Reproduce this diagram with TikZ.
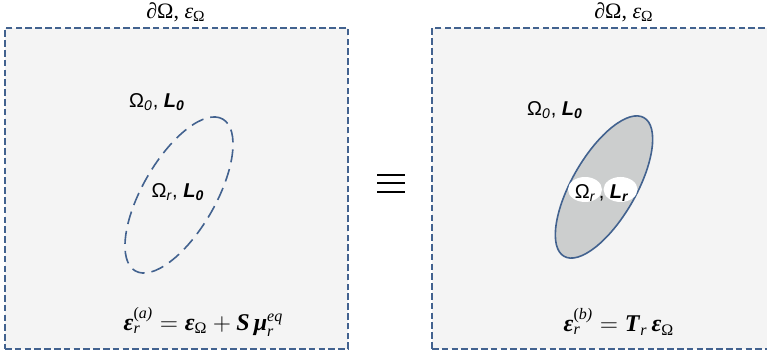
\documentclass[tikz,border=0pt]{standalone}
\usepackage{amsmath}
\usepackage{fontspec}
\setmainfont{Liberation Serif}
\newfontfamily\labelfont{Liberation Sans}
\usetikzlibrary{shapes.geometric}
\definecolor{frameblue}{HTML}{42628F}
\definecolor{panelfill}{HTML}{F4F4F4}
\definecolor{inclfill}{HTML}{CCCECE}
\newcommand{\bi}[1]{\textbf{\textit{#1}}}

\begin{document}
\begin{tikzpicture}[x=0.5pt, y=-0.5pt, every node/.style={align=center, inner sep=0pt}]
  \useasboundingbox (0,0) rectangle (767,356);

  % --- Panels ---
  \node[rectangle, draw=frameblue, fill=panelfill, line width=1.1pt, dash pattern=on 3.3pt off 1.6pt, minimum width=171.5pt, minimum height=160.5pt] (PA) at (176.5,188.5) {};
  \node[rectangle, draw=frameblue, fill=panelfill, line width=1.1pt, dash pattern=on 3.3pt off 1.6pt, minimum width=172pt, minimum height=160.5pt] (PB) at (604,188.5) {};
  \node[font=\fontsize{11}{13}\selectfont] (TA) at (176,12) {∂Ω, $\text{\itshape ε}_{\text{Ω}}$};
  \node[font=\fontsize{11}{13}\selectfont] (TB) at (624,12) {∂Ω, $\text{\itshape ε}_{\text{Ω}}$};

  % --- Inclusion (a), dashed ---
  \node[ellipse, draw=frameblue, line width=0.8pt, dash pattern=on 6.5pt off 3.5pt, rotate=60, minimum width=87.6pt, minimum height=36.5pt] (EA) at (179,195) {};
  \node[font=\labelfont\fontsize{10}{12}\selectfont] (A0) at (157,102) {Ω\textsubscript{\itshape 0}, \bi{L}\textsubscript{\bi{0}}};
  \node[font=\labelfont\fontsize{10}{12}\selectfont] (Ar) at (178,192) {Ω\textsubscript{\itshape r}, \bi{L}\textsubscript{\bi{0}}};

  % --- Inclusion (b), filled ---
  \node[ellipse, draw=frameblue, line width=0.8pt, fill=inclfill, rotate=60, minimum width=80pt, minimum height=32pt] (EB) at (604,187) {};
  \node[ellipse, fill=white, minimum width=17pt, minimum height=12.5pt] (WB1) at (585,189.5) {};
  \node[ellipse, fill=white, minimum width=17pt, minimum height=12.5pt] (WB2) at (620.5,189.5) {};
  \node[font=\labelfont\fontsize{10}{12}\selectfont] (B0) at (555,110) {Ω\textsubscript{\itshape 0}, \bi{L}\textsubscript{\bi{0}}};
  \node[font=\labelfont\fontsize{10}{12}\selectfont] (Br) at (602,193) {Ω\textsubscript{\itshape r}\,, \bi{L}\textsubscript{\bi{r}}};

  % --- Equivalence sign ---
  \draw[line width=1pt] (377,175) -- (405,175);
  \draw[line width=1pt] (377,183.5) -- (405,183.5);
  \draw[line width=1pt] (377,192) -- (405,192);

  % --- Strain relations ---
  \node[font=\fontsize{12}{14}\selectfont] (QA) at (203.5,322) {$\text{\bi{ε}}_{\text{\itshape r}}^{\text{(\itshape a)}} = \text{\bi{ε}}_{\text{Ω}} + \text{\bi{S}}\,\text{\bi{μ}}_{\text{\itshape r}}^{\text{\itshape eq}}$};
  \node[font=\fontsize{12}{14}\selectfont] (QB) at (619,322) {$\text{\bi{ε}}_{\text{\itshape r}}^{\text{(\itshape b)}} = \text{\bi{T}}_{\text{\itshape r}}\,\text{\bi{ε}}_{\text{Ω}}$};
\end{tikzpicture}
\end{document}
